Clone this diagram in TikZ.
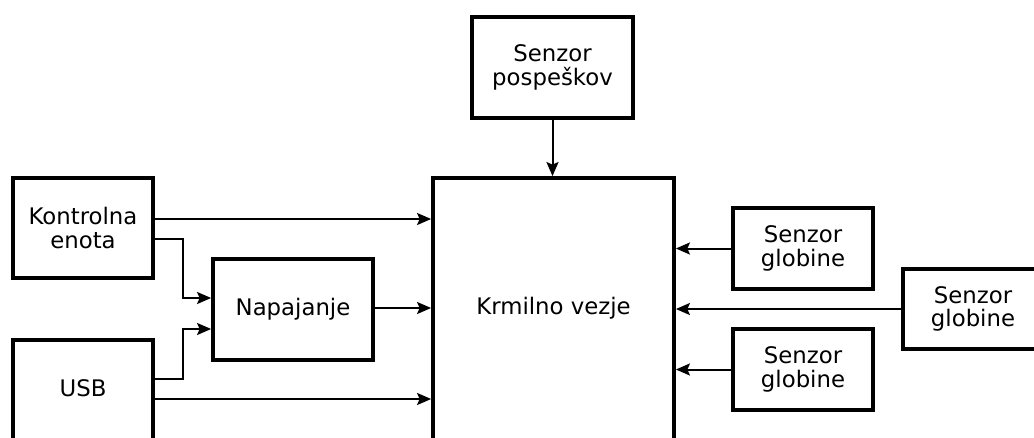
\documentclass[tikz,border=0pt]{standalone}
\usepackage{fontspec}
\setmainfont{DejaVu Sans}
\usetikzlibrary{arrows.meta}
\tikzset{
  box/.style={draw, line width=3.8pt, rectangle, inner sep=0pt, align=center},
  arr/.style={line width=2pt, -{Stealth[length=14pt,width=12pt,inset=2.5pt]}}
}
\begin{document}
\begin{tikzpicture}[x=1pt,y=-1pt, font=\fontsize{22.8}{23.5}\selectfont]
\path[use as bounding box, clip] (0,0) rectangle (1034,437);
\fill[white] (0,0) rectangle (1034,437);
% boxes
\node[box, minimum width=161pt, minimum height=101pt] (pos) at (552.5,67.5) {Senzor\\pospeškov};
\node[box, minimum width=241pt, minimum height=302pt] (krm) at (553.5,329) {};
\node (krmt) at (553.5,308) {Krmilno vezje};
\node[box, minimum width=140pt, minimum height=100pt] (ke) at (83,228) {Kontrolna\\enota};
\node[box, minimum width=140pt, minimum height=140pt] (usb) at (83,410) {};
\node (usbt) at (83,388) {USB};
\node[box, minimum width=160pt, minimum height=101pt] (nap) at (293,309.5) {Napajanje};
\node[box, minimum width=140pt, minimum height=81pt] (sg1) at (803,248.5) {Senzor\\globine};
\node[box, minimum width=140pt, minimum height=81pt] (sg2) at (803,369.5) {Senzor\\globine};
\node[box, minimum width=140pt, minimum height=80pt] (sg3) at (973,309) {Senzor\\globine};
% connectors
\draw[arr] (pos.south) -- (pos.south |- krm.north);
\coordinate (k1) at (ke.east |- 0,219);
\draw[arr] (k1) -- (k1 -| krm.west);
\coordinate (k2) at (ke.east |- 0,239);
\coordinate (n1) at (nap.west |- 0,298);
\draw[arr] (k2) -- (183,239) |- (n1);
\coordinate (u1) at (usb.east |- 0,379);
\coordinate (n2) at (nap.west |- 0,329);
\draw[arr] (u1) -- (183,379) |- (n2);
\coordinate (u2) at (usb.east |- 0,399);
\draw[arr] (u2) -- (u2 -| krm.west);
\coordinate (n3) at (nap.east |- 0,308);
\draw[arr] (n3) -- (n3 -| krm.west);
\draw[arr] (sg1.west) -- (sg1.west -| krm.east);
\draw[arr] (sg2.west) -- (sg2.west -| krm.east);
\draw[arr] (sg3.west) -- (sg3.west -| krm.east);
\end{tikzpicture}
\end{document}
